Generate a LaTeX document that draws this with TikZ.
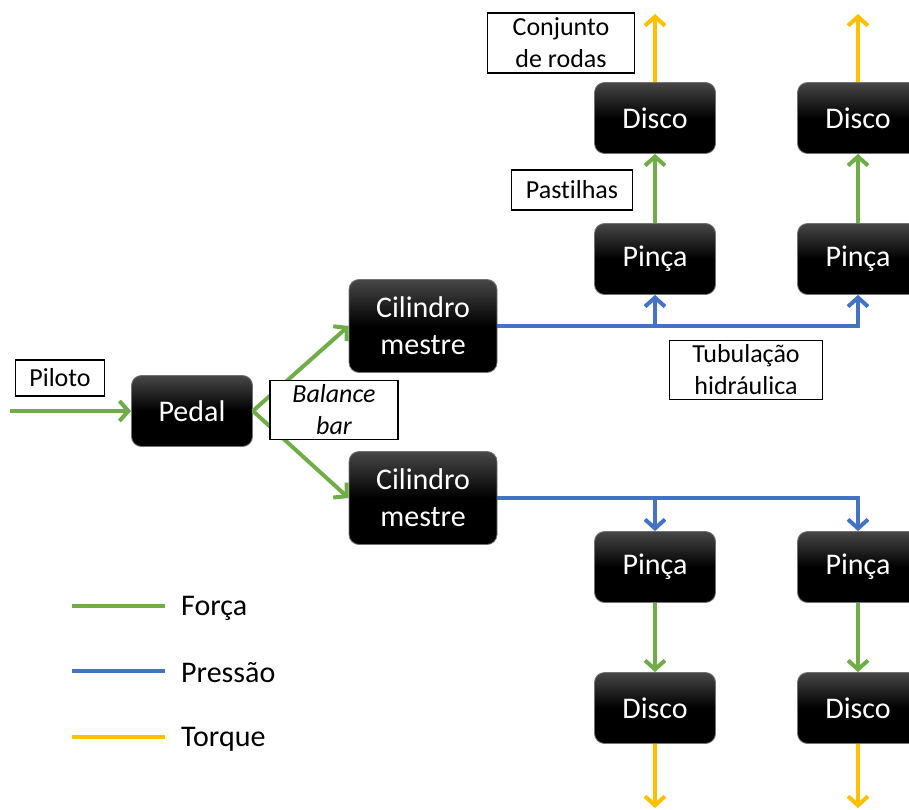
\documentclass[tikz,border=0pt]{standalone}
\usepackage{fontspec}
\setmainfont{Carlito}[Ligatures=NoCommon]
\usetikzlibrary{arrows.meta}
\definecolor{verde}{HTML}{70AD47}
\definecolor{azul}{HTML}{4472C4}
\definecolor{amarelo}{HTML}{FFC000}
\tikzset{
	bloco/.style={rectangle, rounded corners=10pt, draw=black!55, line width=0.8pt,
		top color=black!72, bottom color=black, middle color=black, text=white,
		minimum width=121pt, minimum height=71pt, inner sep=0pt, align=center,
		font=\fontsize{30}{37}\selectfont},
	rotulo/.style={rectangle, draw=black, line width=1.2pt, fill=white, inner sep=0pt,
		align=center, font=\fontsize{26}{32}\selectfont},
	ponta/.style={-{Straight Barb[length=9pt,width=20pt]}},
	forca/.style={line width=4pt, color=verde},
	pressao/.style={line width=4pt, color=azul},
	torque/.style={line width=4pt, color=amarelo},
	legenda/.style={anchor=west, inner sep=0pt, font=\fontsize{30}{36}\selectfont}
}

\begin{document}
\begin{tikzpicture}[x=1pt, y=-1pt]
		%%%%% START %%%%%
		\useasboundingbox (0, 0) rectangle (909, 810);
		
		\node[bloco] (pedal) at (192, 411) {Pedal};
		\node[bloco, minimum width=148pt, minimum height=93pt] (cm1) at (423, 326) {Cilindro\\mestre};
		\node[bloco, minimum width=148pt, minimum height=93pt] (cm2) at (423, 498) {Cilindro\\mestre};
		
		\node[bloco] (disco1) at (655, 118) {Disco};
		\node[bloco] (disco2) at (858, 118) {Disco};
		\node[bloco] (pinca1) at (655, 259) {Pinça};
		\node[bloco] (pinca2) at (858, 259) {Pinça};
		
		\node[bloco] (pinca3) at (655, 567) {Pinça};
		\node[bloco] (pinca4) at (858, 567) {Pinça};
		\node[bloco] (disco3) at (655, 708) {Disco};
		\node[bloco] (disco4) at (858, 708) {Disco};
		
		\coordinate (entrada) at (10, 411);
		\coordinate (roda1) at (655, 14);
		\coordinate (roda2) at (858, 14);
		\coordinate (roda3) at (655, 808);
		\coordinate (roda4) at (858, 808);
		
		% forca
		\draw[forca, ponta] (entrada) -- (pedal.west);
		\draw[forca, ponta] (pedal.east) -- (cm1.west);
		\draw[forca, ponta] (pedal.east) -- (cm2.west);
		\draw[forca, ponta] (pinca1.north) -- (disco1.south);
		\draw[forca, ponta] (pinca2.north) -- (disco2.south);
		\draw[forca, ponta] (pinca3.south) -- (disco3.north);
		\draw[forca, ponta] (pinca4.south) -- (disco4.north);
		
		% pressao
		\draw[pressao, ponta] (cm1.east) -| (pinca2.south);
		\draw[pressao, ponta] (cm1.east -| pinca1.south) -- (pinca1.south);
		\draw[pressao, ponta] (cm2.east) -| (pinca4.north);
		\draw[pressao, ponta] (cm2.east -| pinca3.north) -- (pinca3.north);
		
		% torque
		\draw[torque, ponta] (disco1.north) -- (roda1);
		\draw[torque, ponta] (disco2.north) -- (roda2);
		\draw[torque, ponta] (disco3.south) -- (roda3);
		\draw[torque, ponta] (disco4.south) -- (roda4);
		
		% rotulos
		\node[rotulo, minimum width=89pt, minimum height=36pt] (piloto) at (60, 378) {Piloto};
		\node[rotulo, minimum width=128pt, minimum height=59pt] (balance) at (334, 410) {\itshape Balance\\\itshape bar};
		\node[rotulo, minimum width=147pt, minimum height=60pt] (conjunto) at (561, 43) {Conjunto\\de rodas};
		\node[rotulo, minimum width=121pt, minimum height=40pt] (pastilhas) at (572, 190) {Pastilhas};
		\node[rotulo, minimum width=153pt, minimum height=59pt] (tubulacao) at (746, 370) {Tubulação\\hidráulica};
		
		% legenda
		\node[legenda] (lforca) at (181, 608) {Força};
		\node[legenda] (lpressao) at (181, 673) {Pressão};
		\node[legenda] (ltorque) at (181, 739) {Torque};
		\draw[forca] (72, 606) -- (165, 606);
		\draw[pressao] (72, 671) -- (165, 671);
		\draw[torque] (72, 737) -- (165, 737);
		
		%%%%% END %%%%%
\end{tikzpicture}
\end{document}
